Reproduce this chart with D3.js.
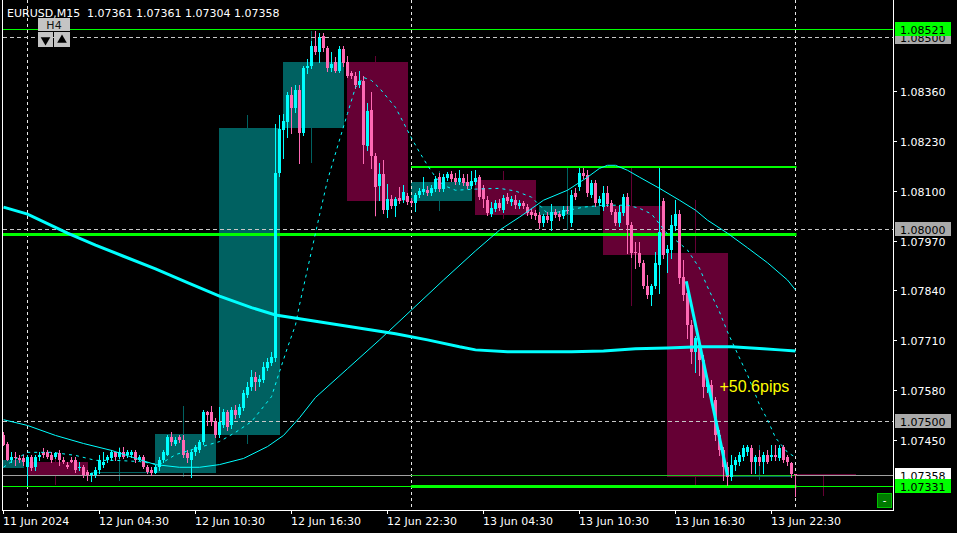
<!DOCTYPE html>
<html><head><meta charset="utf-8">
<script src="https://cdn.jsdelivr.net/npm/d3@7"></script>
<style>html,body{margin:0;padding:0;background:#000;}svg{display:block;}</style>
</head><body>
<svg id="chart" width="957" height="533"></svg>
<script>
// ---------------- DATA ----------------
const symbolLabel = "EURUSD,M15";
const headerQuote = [1.07361, 1.07361, 1.07304, 1.07358]; // O H L C of current bar
const firstBarTime = "2024-06-11 22:30"; // M15 bars, one every 15 minutes
const open = [
1.07464,1.07441,1.07399,1.07407,1.07402,1.07402,1.07381,1.07407,1.07379,1.07405,
1.07420,1.07418,1.07412,1.07407,1.07415,1.07399,1.07386,1.07399,1.07399,1.07379,
1.07379,1.07368,1.07358,1.07358,1.07371,1.07386,1.07397,1.07402,1.07418,1.07407,
1.07420,1.07410,1.07412,1.07418,1.07399,1.07405,1.07381,1.07373,1.07365,1.07379,
1.07399,1.07412,1.07459,1.07441,1.07457,1.07451,1.07415,1.07399,1.07418,1.07425,
1.07446,1.07522,1.07522,1.07498,1.07464,1.07490,1.07522,1.07490,1.07529,1.07516,
1.07534,1.07568,1.07587,1.07615,1.07600,1.07607,1.07639,1.07652,1.07665,1.08146,
1.08257,1.08278,1.08348,1.08315,1.08361,1.08250,1.08419,1.08424,1.08476,1.08460,
1.08502,1.08471,1.08419,1.08434,1.08413,1.08468,1.08434,1.08406,1.08398,1.08374,
1.08387,1.08216,1.08309,1.08190,1.08111,1.08143,1.08049,1.08078,1.08059,1.08080,
1.08075,1.08085,1.08072,1.08067,1.08088,1.08096,1.08101,1.08093,1.08104,1.08135,
1.08104,1.08132,1.08143,1.08132,1.08122,1.08132,1.08122,1.08111,1.08122,1.08135,
1.08106,1.08075,1.08039,1.08052,1.08067,1.08049,1.08083,1.08070,1.08075,1.08059,
1.08067,1.08057,1.08044,1.08041,1.08036,1.08016,1.08033,1.08021,1.08044,1.08039,
1.08033,1.08049,1.08016,1.08093,1.08109,1.08146,1.08140,1.08088,1.08120,1.08067,
1.08057,1.08093,1.08067,1.08044,1.08016,1.08041,1.08083,1.08010,1.07940,1.07938,
1.07912,1.07852,1.07829,1.07852,1.07906,1.08072,1.07938,1.07945,1.08008,1.08039,
1.07875,1.07834,1.07750,1.07680,1.07698,1.07659,1.07587,1.07594,1.07555,1.07462,
1.07425,1.07379,1.07353,1.07384,1.07392,1.07407,1.07420,1.07428,1.07392,1.07405,
1.07392,1.07412,1.07405,1.07412,1.07402,1.07431,1.07405,1.07389,1.07361];
const high = [
1.07472,1.07446,1.07420,1.07420,1.07410,1.07412,1.07412,1.07412,1.07412,1.07418,
1.07428,1.07423,1.07420,1.07420,1.07425,1.07405,1.07394,1.07405,1.07407,1.07392,
1.07386,1.07373,1.07365,1.07379,1.07412,1.07418,1.07410,1.07425,1.07420,1.07428,
1.07433,1.07423,1.07425,1.07423,1.07412,1.07412,1.07386,1.07379,1.07384,1.07405,
1.07423,1.07464,1.07472,1.07457,1.07464,1.07462,1.07423,1.07425,1.07438,1.07451,
1.07529,1.07527,1.07540,1.07508,1.07537,1.07532,1.07529,1.07537,1.07542,1.07545,
1.07581,1.07600,1.07633,1.07628,1.07620,1.07654,1.07665,1.07680,1.08273,1.08296,
1.08301,1.08356,1.08369,1.08374,1.08374,1.08424,1.08442,1.08491,1.08515,1.08510,
1.08510,1.08478,1.08460,1.08447,1.08476,1.08478,1.08452,1.08413,1.08408,1.08413,
1.08398,1.08328,1.08356,1.08198,1.08172,1.08179,1.08117,1.08088,1.08083,1.08109,
1.08114,1.08093,1.08080,1.08093,1.08106,1.08135,1.08111,1.08114,1.08138,1.08146,
1.08143,1.08148,1.08151,1.08146,1.08153,1.08143,1.08143,1.08151,1.08153,1.08140,
1.08114,1.08085,1.08070,1.08075,1.08078,1.08088,1.08093,1.08085,1.08088,1.08075,
1.08072,1.08065,1.08052,1.08049,1.08044,1.08039,1.08044,1.08065,1.08052,1.08046,
1.08059,1.08059,1.08101,1.08106,1.08158,1.08158,1.08153,1.08127,1.08127,1.08085,
1.08111,1.08111,1.08075,1.08052,1.08062,1.08091,1.08093,1.08018,1.07966,1.07966,
1.07920,1.07880,1.07857,1.07940,1.08158,1.08080,1.07958,1.08036,1.08075,1.08049,
1.07920,1.07841,1.07763,1.07722,1.07711,1.07672,1.07607,1.07607,1.07563,1.07477,
1.07433,1.07394,1.07410,1.07405,1.07420,1.07438,1.07438,1.07436,1.07412,1.07425,
1.07418,1.07425,1.07436,1.07438,1.07438,1.07438,1.07412,1.07394,1.07361];
const low = [
1.07436,1.07397,1.07394,1.07386,1.07392,1.07386,1.07332,1.07373,1.07373,1.07399,
1.07407,1.07402,1.07394,1.07402,1.07384,1.07389,1.07376,1.07392,1.07368,1.07373,
1.07355,1.07347,1.07342,1.07353,1.07365,1.07381,1.07392,1.07397,1.07399,1.07402,
1.07402,1.07405,1.07407,1.07394,1.07397,1.07376,1.07363,1.07360,1.07363,1.07373,
1.07394,1.07410,1.07438,1.07436,1.07446,1.07407,1.07392,1.07355,1.07412,1.07420,
1.07441,1.07490,1.07490,1.07459,1.07459,1.07485,1.07477,1.07482,1.07508,1.07511,
1.07529,1.07563,1.07581,1.07581,1.07592,1.07602,1.07633,1.07646,1.07657,1.08138,
1.08185,1.08239,1.08250,1.08304,1.08172,1.08244,1.08406,1.08419,1.08455,1.08434,
1.08465,1.08413,1.08413,1.08408,1.08408,1.08424,1.08395,1.08393,1.08367,1.08369,
1.08172,1.08205,1.08158,1.08036,1.08075,1.08041,1.08031,1.08054,1.08033,1.08067,
1.08070,1.08065,1.08062,1.08046,1.08083,1.08091,1.08088,1.08088,1.08098,1.08098,
1.08098,1.08127,1.08125,1.08117,1.08117,1.08114,1.08106,1.08106,1.08117,1.08078,
1.08057,1.08036,1.08033,1.08046,1.08049,1.08044,1.08067,1.08062,1.08054,1.08054,
1.08054,1.08036,1.08028,1.08026,1.08003,1.08008,1.08018,1.07997,1.08031,1.08023,
1.08028,1.08041,1.08008,1.08078,1.08101,1.08132,1.08085,1.08083,1.08059,1.08062,
1.08049,1.08059,1.08039,1.08010,1.08008,1.08036,1.07938,1.07927,1.07899,1.07904,
1.07847,1.07821,1.07802,1.07847,1.07834,1.07925,1.07888,1.07925,1.07997,1.07860,
1.07815,1.07717,1.07652,1.07628,1.07620,1.07563,1.07576,1.07550,1.07451,1.07412,
1.07347,1.07334,1.07345,1.07373,1.07384,1.07399,1.07412,1.07363,1.07365,1.07386,
1.07365,1.07389,1.07399,1.07399,1.07397,1.07392,1.07384,1.07355,1.07304];
const close = [
1.07438,1.07399,1.07407,1.07402,1.07397,1.07392,1.07407,1.07376,1.07407,1.07412,
1.07412,1.07407,1.07399,1.07415,1.07397,1.07394,1.07379,1.07394,1.07373,1.07381,
1.07360,1.07358,1.07363,1.07373,1.07397,1.07392,1.07405,1.07420,1.07405,1.07420,
1.07407,1.07418,1.07418,1.07399,1.07405,1.07381,1.07368,1.07365,1.07379,1.07399,
1.07418,1.07459,1.07446,1.07451,1.07451,1.07412,1.07402,1.07420,1.07431,1.07446,
1.07522,1.07516,1.07496,1.07464,1.07496,1.07524,1.07485,1.07529,1.07516,1.07537,
1.07573,1.07587,1.07615,1.07600,1.07610,1.07641,1.07654,1.07667,1.08146,1.08260,
1.08281,1.08348,1.08315,1.08361,1.08250,1.08419,1.08426,1.08476,1.08460,1.08499,
1.08471,1.08419,1.08429,1.08413,1.08468,1.08432,1.08400,1.08398,1.08374,1.08387,
1.08218,1.08307,1.08190,1.08109,1.08143,1.08049,1.08078,1.08059,1.08078,1.08072,
1.08096,1.08070,1.08067,1.08088,1.08098,1.08104,1.08093,1.08106,1.08130,1.08104,
1.08135,1.08143,1.08130,1.08122,1.08132,1.08120,1.08111,1.08125,1.08132,1.08083,
1.08078,1.08041,1.08054,1.08067,1.08054,1.08080,1.08072,1.08078,1.08062,1.08067,
1.08059,1.08041,1.08036,1.08033,1.08016,1.08033,1.08023,1.08044,1.08036,1.08031,
1.08049,1.08046,1.08088,1.08083,1.08146,1.08138,1.08093,1.08120,1.08067,1.08078,
1.08093,1.08065,1.08044,1.08016,1.08044,1.08083,1.08010,1.07938,1.07938,1.07912,
1.07852,1.07829,1.07852,1.07912,1.07992,1.07932,1.07948,1.08010,1.08039,1.07873,
1.07829,1.07750,1.07680,1.07717,1.07659,1.07589,1.07602,1.07555,1.07462,1.07423,
1.07379,1.07353,1.07386,1.07397,1.07412,1.07428,1.07431,1.07392,1.07405,1.07392,
1.07410,1.07394,1.07412,1.07405,1.07428,1.07397,1.07394,1.07361,1.07358];

// Higher-timeframe (H4) candles, start given as M15 bar number from the first visible bar
const h4StartBar = [-10, 6, 22, 38, 54, 70, 86, 102, 118, 134, 150, 166, 182, 198];
const h4Open  = [1.07376,1.07394,1.07363,1.07365,1.07464,1.08262,1.08434,1.08072,1.08127,1.08036,1.08059,1.07938,1.07353,1.07361];
const h4High  = [1.07420,1.07412,1.07431,1.07540,1.08296,1.08515,1.08452,1.08151,1.08151,1.08158,1.08158,1.08075,1.07438,1.07361];
const h4Low   = [1.07360,1.07332,1.07342,1.07355,1.07439,1.08172,1.08031,1.08046,1.08026,1.07997,1.07800,1.07334,1.07345,1.07304];
const h4Close = [1.07397,1.07360,1.07368,1.07467,1.08262,1.08434,1.08072,1.08122,1.08036,1.08059,1.07932,1.07355,1.07358,1.07358];
const h4Label = "H4";

// Moving averages (bar number, value)
const maSlowBars = [0,6,16,23,30,38,46,54,62,68,74,82,90,98,106,114,118,126,134,142,150,158,166,174,182,190,194,198];
const maSlowVals = [1.08057,1.08039,1.07989,1.07958,1.07929,1.07896,1.07860,1.07825,1.07795,1.07776,
  1.07766,1.07753,1.07740,1.07727,1.07711,1.07693,1.07685,1.07680,1.07680,1.07680,
  1.07682,1.07688,1.07690,1.07693,1.07693,1.07688,1.07685,1.07682];
const maMidBars = [0,6,13,20,27,34,38,44,49,54,60,66,70,74,78,86,94,102,110,118,124,129,135,141,146,149,151,153,156,159,164,169,173,176,181,186,191,196,198];
const maMidVals = [1.07503,1.07488,1.07462,1.07441,1.07423,1.07399,1.07386,1.07379,1.07379,1.07386,
  1.07402,1.07433,1.07462,1.07508,1.07561,1.07636,1.07711,1.07789,1.07867,1.07943,
  1.07997,1.08031,1.08075,1.08101,1.08135,1.08158,1.08166,1.08166,1.08153,1.08135,
  1.08106,1.08075,1.08049,1.08023,1.07989,1.07951,1.07912,1.07867,1.07841];
const maFastBars = [0,2,6,12,18,23,28,34,39,43,49,54,58,62,67,69,71,73,74,79,81,84,86,88,90,92,94,98,102,104,
  106,108,110,113,118,124,128,132,136,140,145,150,156,159,162,166,169,171,174,176,179,181,184,186,189,191,193,196,198];
const maFastVals = [1.07379,1.07394,1.07418,1.07418,1.07410,1.07397,1.07397,1.07394,1.07386,1.07412,
  1.07431,1.07446,1.07470,1.07498,1.07563,1.07628,1.07691,1.07750,1.07802,1.08036,
  1.08127,1.08232,1.08301,1.08369,1.08395,1.08387,1.08367,1.08317,1.08237,1.08200,
  1.08166,1.08135,1.08114,1.08101,1.08104,1.08106,1.08099,1.08083,1.08041,1.08046,
  1.08057,1.08062,1.08062,1.08054,1.08039,1.07987,1.07963,1.07945,1.07898,1.07849,
  1.07784,1.07732,1.07664,1.07620,1.07542,1.07503,1.07456,1.07418,1.07405];

// Closed trade
const tradeBars = [170.7, 181];
const tradePrices = [1.07864, 1.07358];
const tradeLabel = "+50.6pips";

// Levels
const roundLevels = [1.08500, 1.08000, 1.07500];
const weekLevels = [1.08521, 1.07331];
const prevDayLevel = 1.07987;
const dayHighLow = [1.08162, 1.07331];
const dayClose = 1.07360;
const bidPrice = 1.07358;

// Axis
const priceTicks = [1.08360, 1.08230, 1.08100, 1.07970, 1.07840, 1.07710, 1.07580, 1.07450];
const timeTickBars = [0, 24, 48, 72, 96, 120, 144, 168, 192];
const visibleRange = [1.072677, 1.085968];

// ---------------- DRAW ----------------
const svg = d3.select("#chart");
const W = 957, H = 533, L = 3, R = 893, B = 510;
const font = "DejaVu Sans, Verdana, sans-serif";
const step = 15 * 60 * 1000;
const t0 = d3.utcParse("%Y-%m-%d %H:%M")(firstBarTime);
const barTime = i => new Date(+t0 + i * step);
const x = d3.scaleUtc().domain([barTime(-0.125), barTime(222.375)]).range([L, R]);
const bx = i => x(barTime(i));
const y = d3.scaleLinear().domain(visibleRange).range([B, 0]);
const py = p => Math.round(y(p));

const BULL = "#00ffff", BEAR = "#ff69b4", H4BULL = "#006161", H4BEAR = "#650034";
const GREEN = "#00ff00", CYAN = "#00ffff";

svg.append("rect").attr("width", W).attr("height", H).attr("fill", "#000");
svg.append("defs").append("clipPath").attr("id", "clip")
  .append("rect").attr("x", L).attr("y", 0).attr("width", R - L).attr("height", B);
const plot = svg.append("g").attr("clip-path", "url(#clip)");

// H4 candles
const h4 = h4StartBar.map((s, j) => ({ s, o: h4Open[j], h: h4High[j], l: h4Low[j], c: h4Close[j] }));
plot.append("g").selectAll("rect").data(h4).join("rect")
  .attr("x", d => bx(d.s + 7) - 0.5).attr("width", 1)
  .attr("y", d => py(d.h)).attr("height", d => Math.max(1, py(d.l) - py(d.h)))
  .attr("fill", d => d.c >= d.o ? H4BULL : H4BEAR);
plot.append("g").selectAll("rect").data(h4).join("rect")
  .attr("x", d => bx(d.s) - 0.5).attr("width", d => bx(d.s + 15) - bx(d.s) + 1)
  .attr("y", d => py(Math.max(d.o, d.c)))
  .attr("height", d => Math.max(1, py(Math.min(d.o, d.c)) - py(Math.max(d.o, d.c))))
  .attr("fill", d => d.c >= d.o ? H4BULL : H4BEAR);

// Day separators
const seps = d3.utcDay.range(barTime(0), barTime(200));
plot.append("g").selectAll("line").data(seps).join("line")
  .attr("x1", d => Math.floor(x(d)) + 0.5).attr("x2", d => Math.floor(x(d)) + 0.5)
  .attr("y1", 0).attr("y2", B)
  .attr("stroke", "#e8e8e8").attr("stroke-width", 1).attr("stroke-dasharray", "3,3");

// Level lines
const hline = (g, p, x1, x2, col, w, dash) => {
  const yy = w % 2 ? py(p) + 0.5 : py(p);
  const ln = g.append("line").attr("x1", x1).attr("x2", x2).attr("y1", yy).attr("y2", yy)
    .attr("stroke", col).attr("stroke-width", w);
  if (dash) ln.attr("stroke-dasharray", dash);
};
const lv = plot.append("g");
roundLevels.forEach(p => hline(lv, p, L, R, "#c8c8c8", 1, "4,3"));
weekLevels.forEach(p => hline(lv, p, L, R, GREEN, 1));
hline(lv, prevDayLevel, L, bx(198) + 1, GREEN, 3);
const dayStart = bx(102) - 0.5, dayEnd = bx(198) + 1;
hline(lv, dayHighLow[0], dayStart, dayEnd, GREEN, 2);
hline(lv, dayHighLow[1], dayStart, dayEnd, GREEN, 3);
hline(lv, bidPrice, L, R, "#a0a0a0", 1);
hline(lv, dayClose, dayStart, dayEnd, "#22c022", 1);

// M15 candles
const bars = open.map((o, i) => ({ i, o, h: high[i], l: low[i], c: close[i] }));
const cg = plot.append("g");
cg.selectAll("rect.w").data(bars).join("rect").attr("class", "w")
  .attr("x", d => bx(d.i) - 0.5).attr("width", 1)
  .attr("y", d => py(d.h)).attr("height", d => Math.max(1, py(d.l) - py(d.h) + 1))
  .attr("fill", d => d.c >= d.o ? BULL : BEAR);
cg.selectAll("rect.b").data(bars).join("rect").attr("class", "b")
  .attr("x", d => bx(d.i) - 1.5).attr("width", 3)
  .attr("y", d => py(Math.max(d.o, d.c)))
  .attr("height", d => Math.max(1, py(Math.min(d.o, d.c)) - py(Math.max(d.o, d.c))))
  .attr("fill", d => d.c >= d.o ? BULL : BEAR);

// Moving averages
const lineGen = d3.line().x(d => bx(d[0])).y(d => y(d[1]));
plot.append("path").datum(d3.zip(maMidBars, maMidVals)).attr("d", lineGen)
  .attr("fill", "none").attr("stroke", CYAN).attr("stroke-width", 1);
plot.append("path").datum(d3.zip(maFastBars, maFastVals)).attr("d", lineGen)
  .attr("fill", "none").attr("stroke", CYAN).attr("stroke-width", 1).attr("stroke-dasharray", "3,4");
plot.append("path").datum(d3.zip(maSlowBars, maSlowVals)).attr("d", lineGen)
  .attr("fill", "none").attr("stroke", CYAN).attr("stroke-width", 3);

// Trade line and label
plot.append("path").datum(d3.zip(tradeBars, tradePrices)).attr("d", lineGen)
  .attr("fill", "none").attr("stroke", CYAN).attr("stroke-width", 3);
svg.append("text").attr("x", bx(tradeBars[1]) - 8).attr("y", y(tradePrices[1]) - 83)
  .attr("font-family", "Liberation Sans, Arial, sans-serif").attr("font-size", 16)
  .attr("fill", "#ffff00").text(tradeLabel);

// Frame
svg.append("line").attr("x1", 2.5).attr("x2", 2.5).attr("y1", 0).attr("y2", B + 0.5).attr("stroke", "#fff");
svg.append("line").attr("x1", R + 0.5).attr("x2", R + 0.5).attr("y1", 0).attr("y2", B + 0.5).attr("stroke", "#fff");
svg.append("line").attr("x1", 2).attr("x2", R + 1).attr("y1", B + 0.5).attr("y2", B + 0.5).attr("stroke", "#fff");

// Price axis
const ax = svg.append("g").attr("font-family", font).attr("font-size", 11);
priceTicks.forEach(p => {
  const yy = py(p) + 0.5;
  ax.append("line").attr("x1", R).attr("x2", R + 4).attr("y1", yy).attr("y2", yy).attr("stroke", "#fff");
  ax.append("text").attr("x", 900).attr("y", yy + 4).attr("fill", "#fff").text(p.toFixed(5));
});
const tag = (p, bg, fg) => {
  const yy = y(p);
  ax.append("rect").attr("x", 895).attr("y", Math.round(yy - 7)).attr("width", 56).attr("height", 14).attr("fill", bg);
  ax.append("text").attr("x", 900).attr("y", Math.round(yy) + 4.5).attr("fill", fg).text(p.toFixed(5));
};
roundLevels.forEach(p => tag(p, "#aaaaaa", "#000"));
tag(weekLevels[0], GREEN, "#000");
tag(bidPrice, "#ffffff", "#000");
tag(weekLevels[1], GREEN, "#000");

// Time axis
const fFirst = d3.utcFormat("%d %b %Y"), fOther = d3.utcFormat("%d %b %H:%M");
timeTickBars.forEach((b, k) => {
  const xx = Math.floor(bx(b)) + 0.5;
  ax.append("line").attr("x1", xx).attr("x2", xx).attr("y1", B).attr("y2", B + 4).attr("stroke", "#fff");
  ax.append("text").attr("x", xx - 0.5).attr("y", 525).attr("fill", "#fff")
    .text(k === 0 ? fFirst(barTime(b)) : fOther(barTime(b)));
});

// Header
const hd = svg.append("g").attr("font-family", font).attr("font-size", 11).attr("fill", "#fff");
hd.append("text").attr("x", 7).attr("y", 17).text(symbolLabel);
hd.append("text").attr("x", 87).attr("y", 17).text(headerQuote.map(v => v.toFixed(5)).join(" "));

// H4 selector widget
const wg = svg.append("g");
wg.append("rect").attr("x", 38).attr("y", 18).attr("width", 32).attr("height", 13).attr("fill", "#c4c4c4");
wg.append("text").attr("x", 54).attr("y", 29).attr("text-anchor", "middle").attr("font-family", font)
  .attr("font-size", 11).attr("fill", "#111").text(h4Label);
wg.append("rect").attr("x", 38).attr("y", 32).attr("width", 15).attr("height", 15).attr("fill", "#c4c4c4");
wg.append("rect").attr("x", 54).attr("y", 32).attr("width", 16).attr("height", 15).attr("fill", "#c4c4c4");
wg.append("path").attr("d", d3.symbol(d3.symbolTriangle, 40)()).attr("transform", "translate(45.5,40) rotate(180)").attr("fill", "#000");
wg.append("path").attr("d", d3.symbol(d3.symbolTriangle, 40)()).attr("transform", "translate(62,40)").attr("fill", "#000");

// bottom-right button
svg.append("rect").attr("x", 877.5).attr("y", 493.5).attr("width", 14).attr("height", 14)
  .attr("fill", "#007a00").attr("stroke", "#00c000");
svg.append("text").attr("x", 884.5).attr("y", 504).attr("text-anchor", "middle").attr("font-family", font)
  .attr("font-size", 10).attr("fill", "#fff").text("-");
</script>
</body></html>
